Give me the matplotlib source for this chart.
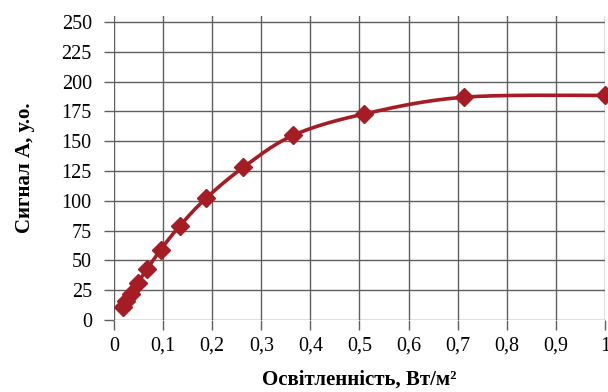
import matplotlib
matplotlib.use('Agg')
import matplotlib.pyplot as plt
import numpy as np
from matplotlib.ticker import FuncFormatter

# Illuminance (W/m2) and signal A (arb. units)
illum = [0.018, 0.025, 0.035, 0.048, 0.068, 0.095, 0.134, 0.187, 0.263, 0.365, 0.51, 0.713, 1.0]
signal = [11, 16, 22, 31, 43, 59, 79, 102, 128, 155, 173, 187, 188.5]

x_ticks = [0, 0.1, 0.2, 0.3, 0.4, 0.5, 0.6, 0.7, 0.8, 0.9, 1.0]
y_ticks = [0, 25, 50, 75, 100, 125, 150, 175, 200, 225, 250]

red = '#a51c24'
grid_col = '#5f5f5f'

plt.rcParams['font.family'] = ['Liberation Serif', 'DejaVu Serif']


def smooth(xs, ys, sx=1.0, sy=250.0, n=30):
    # Excel-style smoothed line: Catmull-Rom through the points
    p = np.column_stack([np.array(xs) / sx, np.array(ys) / sy])
    p = np.vstack([p[0], p, p[-1]])
    out = []
    for i in range(1, len(p) - 2):
        p0, p1, p2, p3 = p[i - 1], p[i], p[i + 1], p[i + 2]
        c1 = p1 + (p2 - p0) / 6
        c2 = p2 - (p3 - p1) / 6
        t = np.linspace(0, 1, n)[:, None]
        seg = ((1 - t) ** 3) * p1 + 3 * ((1 - t) ** 2) * t * c1 + 3 * (1 - t) * t ** 2 * c2 + t ** 3 * p2
        out.append(seg)
    out = np.vstack(out)
    return out[:, 0] * sx, out[:, 1] * sy


fig = plt.figure(figsize=(6.08, 3.92), dpi=100)
ax = fig.add_axes([0.1875, 0.1837, 0.8075, 0.775])

sx_, sy_ = smooth(illum, signal)
ax.plot(sx_, sy_, color=red, lw=2.6, clip_on=False, zorder=3)
ax.plot(illum, signal, linestyle='none', marker='D', ms=9.5, color=red, clip_on=False, zorder=4)

ax.set_xlim(0, 1)
ax.set_ylim(0, 255)
ax.set_xticks(x_ticks)
ax.set_yticks(y_ticks)
ax.xaxis.set_major_formatter(FuncFormatter(lambda v, p: ('%g' % v).replace('.', ',')))
ax.grid(True, color=grid_col, lw=1.0)
ax.set_axisbelow(True)
for s in ax.spines.values():
    s.set_visible(False)
ax.tick_params(axis='both', colors=grid_col, length=7, width=1.0, labelcolor='black', labelsize=14.5)
ax.tick_params(axis='y', pad=9)
ax.tick_params(axis='x', pad=5)

ax.set_xlabel('Освітленність, Вт/м²', fontsize=15, fontweight='bold', labelpad=10)
ax.set_ylabel('Сигнал А, у.о.', fontsize=15, fontweight='bold', labelpad=19)

fig.savefig('out.png', dpi=100)
